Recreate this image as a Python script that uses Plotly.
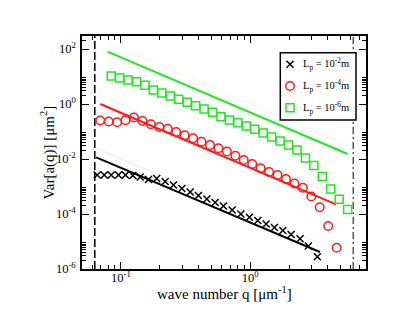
import plotly.graph_objects as go

# ---------------- data ----------------
# L_p = 1e-2 m  (black crosses)
q_cross = [0.0656, 0.0743, 0.0841, 0.0958, 0.1085, 0.1238, 0.1410, 0.1635, 0.1892, 0.2201,
           0.2552, 0.2964, 0.3436, 0.3983, 0.4625, 0.5362, 0.6216, 0.7258, 0.8475, 0.9877,
           1.147, 1.330, 1.542, 1.791, 2.076, 2.436, 2.824, 3.315]
var_cross = [2.62e-3, 2.62e-3, 2.62e-3, 2.62e-3, 2.62e-3, 2.51e-3, 2.21e-3, 1.80e-3, 1.95e-3, 1.52e-3,
             1.14e-3, 8.45e-4, 6.31e-4, 4.71e-4, 3.51e-4, 2.62e-4, 1.95e-4, 1.40e-4, 1.00e-4, 7.59e-5,
             5.81e-5, 4.33e-5, 3.23e-5, 2.51e-5, 1.80e-5, 1.25e-5, 6.85e-6, 2.80e-6]

# L_p = 1e-4 m  (red circles)
q_circle = [0.0692, 0.0804, 0.0935, 0.1086, 0.1263, 0.1468, 0.1706, 0.1983, 0.2305, 0.2679,
            0.3115, 0.3621, 0.4209, 0.4891, 0.5686, 0.6608, 0.7682, 0.8929, 1.038, 1.206,
            1.403, 1.630, 1.895, 2.203, 2.560, 2.976, 3.459, 4.021, 4.673]
var_circle = [0.251, 0.231, 0.218, 0.255, 0.323, 0.241, 0.183, 0.146, 0.126, 0.0960,
              0.0728, 0.0566, 0.0426, 0.0323, 0.0245, 0.0188, 0.0132, 9.21e-3, 6.58e-3, 4.59e-3,
              3.37e-3, 2.62e-3, 1.87e-3, 1.29e-3, 9.04e-4, 4.33e-4, 1.75e-4, 3.66e-5, 5.96e-6]

# L_p = 1e-6 m  (green squares)
q_square = [0.0841, 0.0978, 0.1137, 0.1321, 0.1536, 0.1785, 0.2075, 0.2412, 0.2804, 0.3259,
            0.3789, 0.4404, 0.5119, 0.5950, 0.6917, 0.8039, 0.9346, 1.086, 1.263, 1.468,
            1.706, 1.983, 2.305, 2.679, 3.115, 3.622, 4.209, 4.891, 5.686]
var_square = [10.4, 8.82, 7.46, 6.47, 4.79, 3.23, 2.51, 1.95, 1.48, 1.15,
              0.867, 0.658, 0.499, 0.345, 0.262, 0.209, 0.158, 0.120, 0.0881, 0.0631,
              0.0452, 0.0323, 0.0212, 0.0109, 5.81e-3, 2.31e-3, 8.11e-4, 3.45e-4, 1.46e-4]

# q^-2 guide lines (end points)
line_q_black = [0.0644, 3.47]
line_v_black = [1.15e-2, 4.15e-6]
line_q_red = [0.0692, 4.63]
line_v_red = [1.0, 2.25e-4]
line_q_green = [0.0788, 5.69]
line_v_green = [79.8, 1.52e-2]
# faint companion lines
ghost_v_black = [2.45e-2, 8.8e-6]
ghost_v_red = [2.1, 4.8e-4]
ghost_v_green = [168.0, 3.2e-2]

# cut-off wave numbers (vertical lines)
q_min_cut = 0.0628
q_max_cut = 6.28

legend_labels = ["L<sub>p</sub> = 10<sup>-2</sup>m",
                 "L<sub>p</sub> = 10<sup>-4</sup>m",
                 "L<sub>p</sub> = 10<sup>-6</sup>m"]

# tick labels
y_tickvals = [1e-6, 1e-4, 1e-2, 1, 1e2]
y_ticktext = ["10<sup>-6</sup>", "10<sup>-4</sup>", "10<sup>-2</sup>", "10<sup>0</sup>", "10<sup>2</sup>"]
x_tickvals = [0.1, 1]
x_ticktext = ["10<sup>-1</sup>", "10<sup>0</sup>"]

# ---------------- styles ----------------
BLACK = "black"
RED = "#ff1a1a"
GREEN = "#22e622"
FONT = "Liberation Serif"

fig = go.Figure()

# faint companion lines
for q, v, c in [(line_q_black, ghost_v_black, "rgba(0,0,0,0.08)"),
                (line_q_red, ghost_v_red, "rgba(255,60,60,0.10)"),
                (line_q_green, ghost_v_green, "rgba(40,220,40,0.10)")]:
    fig.add_trace(go.Scatter(x=q, y=v, mode="lines", line=dict(color=c, width=1),
                             showlegend=False, hoverinfo="skip"))

# guide lines
for q, v, c in [(line_q_black, line_v_black, BLACK),
                (line_q_red, line_v_red, RED),
                (line_q_green, line_v_green, GREEN)]:
    fig.add_trace(go.Scatter(x=q, y=v, mode="lines", line=dict(color=c, width=2),
                             showlegend=False))

# data markers
fig.add_trace(go.Scatter(x=q_cross, y=var_cross, mode="markers", showlegend=False,
                         marker=dict(symbol="x-thin", size=7, line=dict(color=BLACK, width=1.5))))
fig.add_trace(go.Scatter(x=q_circle, y=var_circle, mode="markers", showlegend=False,
                         marker=dict(symbol="circle-open", size=8.5, color=RED, line=dict(width=1.5))))
fig.add_trace(go.Scatter(x=q_square, y=var_square, mode="markers", showlegend=False,
                         marker=dict(symbol="square-open", size=8, color=GREEN, line=dict(width=1.5))))

# manual legend in a pixel-like overlay frame (0..284 x 0..233 from top-left of plot)
leg_x = 208
leg_y = [28.3, 50.0, 71.7]
fig.add_trace(go.Scatter(x=[leg_x], y=[leg_y[0]], xaxis="x2", yaxis="y2", mode="markers",
                         showlegend=False, hoverinfo="skip",
                         marker=dict(symbol="x-thin", size=7, line=dict(color=BLACK, width=1.5))))
fig.add_trace(go.Scatter(x=[leg_x], y=[leg_y[1]], xaxis="x2", yaxis="y2", mode="markers",
                         showlegend=False, hoverinfo="skip",
                         marker=dict(symbol="circle-open", size=8.5, color=RED, line=dict(width=1.5))))
fig.add_trace(go.Scatter(x=[leg_x], y=[leg_y[2]], xaxis="x2", yaxis="y2", mode="markers",
                         showlegend=False, hoverinfo="skip",
                         marker=dict(symbol="square-open", size=8, color=GREEN, line=dict(width=1.5))))

annotations = []
for lab, yy in zip(legend_labels, leg_y):
    annotations.append(dict(x=220, y=yy, xref="x2", yref="y2", text=lab, showarrow=False,
                            xanchor="left", yanchor="middle", borderpad=0,
                            font=dict(family=FONT, size=10.5, color="black")))
annotations.append(dict(x=-0.12, y=0.5, xref="paper", yref="paper",
                        text="Var[a(q)] [μm<sup>2</sup>]", textangle=-90, showarrow=False,
                        xanchor="center", yanchor="middle",
                        font=dict(family=FONT, size=15, color="black")))
annotations.append(dict(x=0.502, y=-0.103, xref="paper", yref="paper",
                        text="wave number q [μm<sup>-1</sup>]", showarrow=False,
                        xanchor="center", yanchor="middle",
                        font=dict(family=FONT, size=15, color="black")))

shapes = [
    dict(type="line", xref="x", yref="paper", x0=q_min_cut, x1=q_min_cut, y0=0, y1=1,
         layer="below", line=dict(color="black", width=1.5, dash="8px,3px")),
    dict(type="line", xref="x", yref="paper", x0=q_max_cut, x1=q_max_cut, y0=0, y1=1,
         layer="below", line=dict(color="#333333", width=1.2, dash="7px,3px,2px,3px")),
    dict(type="rect", xref="x2", yref="y2", x0=198.3, x1=274, y0=16.7, y1=84,
         layer="below", line=dict(color="black", width=1.5), fillcolor="white"),
]

y_minor = [k * 10.0 ** d for d in (-6, -4, -2, 0, 2) for k in range(2, 10) if k * 10.0 ** d < 290]
x_minor = [k * 10.0 ** d for d in (-2, -1, 0) for k in range(2, 10) if 0.05 <= k * 10.0 ** d < 7.9]

axis_common = dict(showgrid=False, zeroline=False, showline=True, linecolor="black", linewidth=1.5,
                   mirror="ticks", ticks="inside", ticklen=7, tickwidth=1.3, tickcolor="black",
                   automargin=False,
                   tickfont=dict(family=FONT, size=12.5, color="black"))

# the page body adds an 8 px offset, so the figure is drawn 8 px smaller with shifted margins
fig.update_layout(
    template="none",
    width=407, height=304,
    margin=dict(l=74, r=49, t=28, b=43),
    paper_bgcolor="white", plot_bgcolor="white",
    showlegend=False,
    xaxis=dict(type="log", range=[-1.301, 0.897], tickmode="array", tickvals=x_tickvals,
               ticktext=x_ticktext, ticklabelstandoff=-4,
               minor=dict(tickmode="array", tickvals=x_minor, ticks="inside", ticklen=4,
                          tickwidth=1, tickcolor="black"),
               **axis_common),
    yaxis=dict(type="log", range=[-6, 2.473], tickmode="array", tickvals=y_tickvals,
               ticktext=y_ticktext, ticklabelstandoff=2,
               minor=dict(tickmode="array", tickvals=y_minor, ticks="inside", ticklen=4,
                          tickwidth=1, tickcolor="black"),
               **axis_common),
    xaxis2=dict(range=[0, 284], overlaying="x", anchor="y2", visible=False, fixedrange=True,
                automargin=False),
    yaxis2=dict(range=[233, 0], overlaying="y", anchor="x2", visible=False, fixedrange=True,
                automargin=False),
    annotations=annotations,
    shapes=shapes,
)

fig.write_html("out.html")
